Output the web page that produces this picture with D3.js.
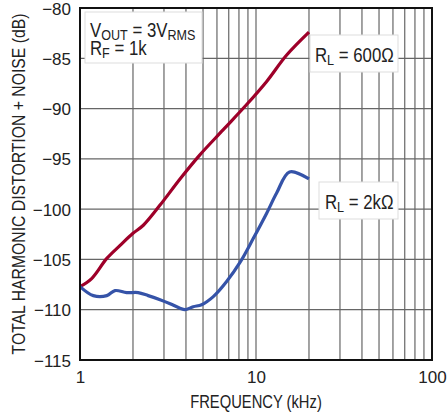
<!DOCTYPE html>
<html><head><meta charset="utf-8">
<script src="https://cdn.jsdelivr.net/npm/d3@7"></script>
<style>
html,body{margin:0;padding:0;background:#fff;}
svg{display:block;}
</style></head><body>
<svg id="chart" width="448" height="415"></svg>
<script>
// THD+N vs frequency, two load resistances
const freqTicks = [1, 10, 100];
const dbTicks = [-80, -85, -90, -95, -100, -105, -110, -115];

const rl600Freq = [1, 1.165, 1.42, 1.69, 2.0, 2.29, 2.85, 3.7, 4.8, 6.52, 8.85, 11.5, 14.9, 20];
const rl600Db   = [-107.7, -106.9, -104.9, -103.6, -102.4, -101.6, -99.6, -97.0, -94.6, -92.1, -89.6, -87.3, -84.7, -82.4];

const rl2kFreq = [1, 1.19, 1.42, 1.58, 1.84, 2.14, 2.44, 2.85, 3.25, 3.7, 3.95, 4.4, 4.91, 5.72, 6.81, 8.11, 9.66, 11.5, 13.1, 15.5, 20];
const rl2kDb   = [-107.7, -108.6, -108.6, -108.1, -108.3, -108.3, -108.6, -109.0, -109.4, -109.85, -110.0, -109.7, -109.5, -108.7, -107.2, -105.3, -102.9, -100.4, -98.4, -96.3, -97.0];

const W = 448, H = 415;
const m = {top: 8, right: 16, bottom: 55, left: 80};
const REG = "'Liberation Sans', Arial, Helvetica, sans-serif";

const svg = d3.select('#chart');
const x = d3.scaleLog().domain([1, 100]).range([m.left, W - m.right]);
const y = d3.scaleLinear().domain([-115, -80]).range([H - m.bottom, m.top]);

// grid
const grid = svg.append('g').attr('stroke', '#666').attr('stroke-width', 1.2);
grid.selectAll('line.v').data(x.ticks().filter(t => t > 1 && t < 100)).join('line')
  .attr('x1', d => x(d)).attr('x2', d => x(d))
  .attr('y1', m.top).attr('y2', H - m.bottom);
grid.selectAll('line.h').data(dbTicks.filter(t => t > -115 && t < -80)).join('line')
  .attr('y1', d => y(d)).attr('y2', d => y(d))
  .attr('x1', m.left).attr('x2', W - m.right);

// annotation boxes (drawn over the grid)
function box(x0, y0, x1, y1) {
  svg.append('rect').attr('x', x0).attr('y', y0).attr('width', x1 - x0).attr('height', y1 - y0)
    .attr('fill', '#fff').attr('stroke', '#ddd').attr('stroke-width', 1);
}
box(85, 12, 202, 63);
box(310, 35, 398, 72);
box(319, 182, 398, 219);

// curves
const line = d3.line().x(d => x(d[0])).y(d => y(d[1])).curve(d3.curveCatmullRom.alpha(0.5));
svg.append('path').datum(d3.zip(rl600Freq, rl600Db)).attr('d', line)
  .attr('fill', 'none').attr('stroke', '#9e0029').attr('stroke-width', 3.2).attr('stroke-linejoin', 'round');
svg.append('path').datum(d3.zip(rl2kFreq, rl2kDb)).attr('d', line)
  .attr('fill', 'none').attr('stroke', '#3553a8').attr('stroke-width', 3.2).attr('stroke-linejoin', 'round');

// frame
svg.append('rect').attr('x', m.left).attr('y', m.top)
  .attr('width', W - m.left - m.right).attr('height', H - m.top - m.bottom)
  .attr('fill', 'none').attr('stroke', '#111').attr('stroke-width', 2);

// axes labels
const yAxis = d3.axisLeft(y).tickValues(dbTicks).tickSize(0).tickPadding(9)
  .tickFormat(d => String(d).replace('-', '\u2212'));
const gy = svg.append('g').attr('transform', `translate(${m.left},0)`).call(yAxis);
gy.select('.domain').remove();
gy.selectAll('text').attr('font-family', REG).attr('font-size', 17).attr('fill', '#222').attr('dy', '0.36em');

const xAxis = d3.axisBottom(x).tickValues(freqTicks).tickSize(0).tickPadding(11).tickFormat(d3.format('d'));
const gx = svg.append('g').attr('transform', `translate(0,${H - m.bottom})`).call(xAxis);
gx.select('.domain').remove();
gx.selectAll('text').attr('font-family', REG).attr('font-size', 17).attr('fill', '#222');

// condensed axis titles
svg.append('text')
  .attr('transform', `translate(${(m.left + W - m.right) / 2},408) scale(0.82,1)`)
  .attr('text-anchor', 'middle').attr('font-family', REG).attr('font-size', 18).attr('fill', '#222')
  .text('FREQUENCY (kHz)');
svg.append('text')
  .attr('transform', `translate(25,${(m.top + H - m.bottom) / 2}) rotate(-90) scale(0.83,1)`)
  .attr('text-anchor', 'middle').attr('font-family', REG).attr('font-size', 19).attr('fill', '#222')
  .text('TOTAL HARMONIC DISTORTION + NOISE (dB)');

// condensed notes with subscripts: parts = [[text, isSub], ...]
function label(px, py, parts) {
  const t = svg.append('text').attr('transform', `translate(${px},${py}) scale(0.84,1)`)
    .attr('font-family', REG).attr('font-size', 20).attr('fill', '#222');
  let sub = false;
  parts.forEach(([s, isSub]) => {
    const ts = t.append('tspan').text(s);
    if (isSub) ts.attr('font-size', 15);
    if (isSub && !sub) ts.attr('dy', 3);
    if (!isSub && sub) ts.attr('dy', -3);
    sub = isSub;
  });
}
label(90, 37, [['V', false], ['OUT', true], [' = 3V', false], ['RMS', true]]);
label(90, 55, [['R', false], ['F', true], [' = 1k', false]]);
label(315, 62, [['R', false], ['L', true], [' = 600\u03A9', false]]);
label(325, 209, [['R', false], ['L', true], [' = 2k\u03A9', false]]);
</script>
</body></html>
